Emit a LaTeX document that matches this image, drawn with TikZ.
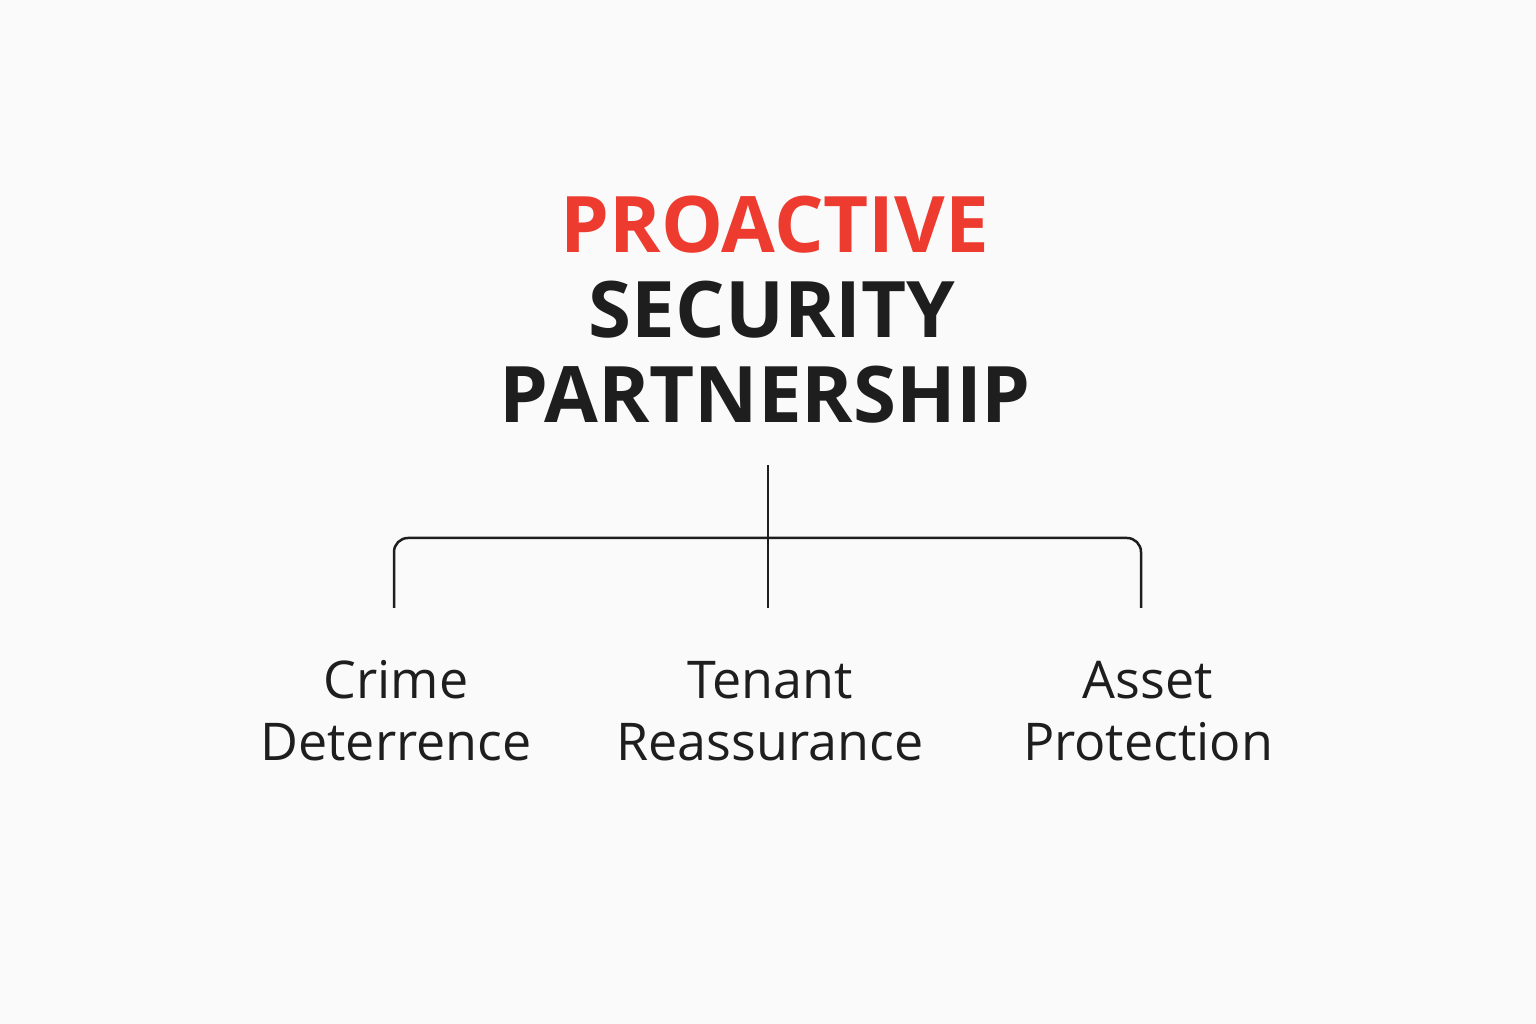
\documentclass[tikz,border=0pt]{standalone}
\usepackage{fontspec}
\setmainfont{Open Sans}
\usetikzlibrary{positioning}
\definecolor{titlered}{HTML}{EE3B2F}
\definecolor{ink}{HTML}{1E1E1E}
\begin{document}
\begin{tikzpicture}[
    x=1pt, y=1pt,
    headline/.style={font=\fontsize{78}{78}\selectfont\bfseries, text=ink, inner sep=0pt},
    branch/.style={font=\fontsize{52}{62}\selectfont, text=ink, align=center, inner sep=0pt},
    link/.style={draw=ink, line width=2.5pt}
]
    \fill[white!98!black] (0,0) rectangle (1536,1024);
    \useasboundingbox (0,0) rectangle (1536,1024);

    % Title block
    \node[headline, text=titlered] (pro) at (775,799) {PROACTIVE};
    \node[headline] (sec) at (772,714) {SECURITY};
    \node[headline] (part) at (765,629) {PARTNERSHIP};

    % Branches
    \node[branch] (crime) at (396,313) {Crime\\Deterrence};
    \node[branch] (tenant) at (770,313) {Tenant\\Reassurance};
    \node[branch] (asset) at (1148,313) {Asset\\Protection};

    % Connector ends
    \coordinate (stem) at (768,559);
    \coordinate (hub) at (768,486);
    \coordinate (c1) at (394,416);
    \coordinate (c2) at (768,416);
    \coordinate (c3) at (1141,416);

    \draw[link] (stem) -- (c2);
    \draw[link, rounded corners=14pt] (c1) |- (hub) -| (c3);
\end{tikzpicture}
\end{document}
